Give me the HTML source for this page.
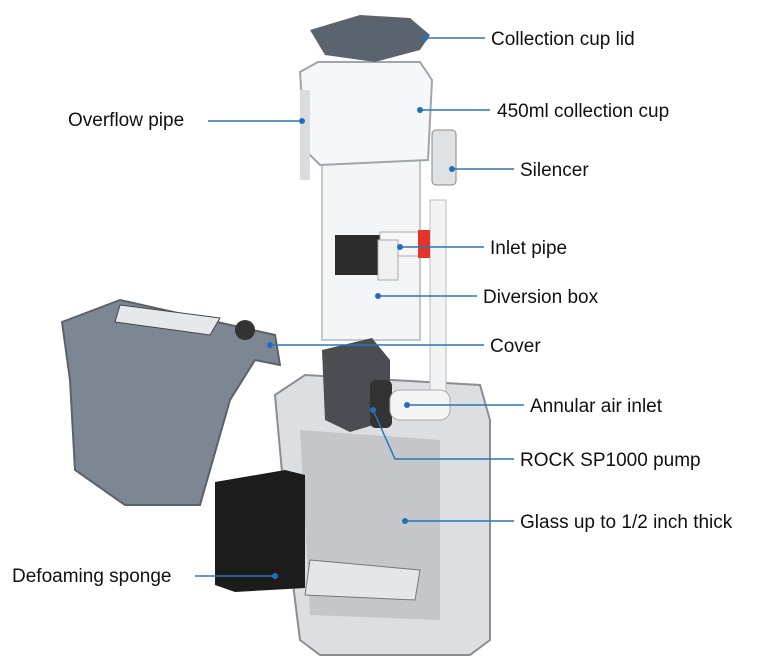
<!DOCTYPE html>
<html><head><style>
html,body{margin:0;padding:0;background:#fff;}
svg{display:block}
text{font-family:"Liberation Sans",sans-serif;font-size:19px;fill:#111;}
</style></head><body>
<svg width="773" height="669" viewBox="0 0 773 669" xmlns="http://www.w3.org/2000/svg">
<!-- sump -->
<path d="M275 395 L305 375 L480 385 L490 420 L490 640 L470 655 L320 655 L300 640 L290 560 Z" fill="#dcdee1" stroke="#8a8e94" stroke-width="2"/>
<path d="M300 430 L440 440 L440 620 L310 615 Z" fill="#b9bcc1" opacity="0.7"/>
<path d="M310 560 L420 570 L415 600 L305 595 Z" fill="#e4e6e8" stroke="#777"/>
<!-- cover -->
<path d="M62 322 L120 300 L275 335 L280 365 L255 360 L230 400 L200 505 L125 505 L75 470 L70 380 Z" fill="#7d8794" stroke="#5a626c" stroke-width="2"/>
<path d="M120 305 L220 318 L210 335 L115 322 Z" fill="#e6e9ec" stroke="#444"/>
<circle cx="245" cy="330" r="10" fill="#333"/>
<!-- sponge -->
<path d="M215 482 L285 470 L305 475 L305 588 L235 592 L215 585 Z" fill="#1c1c1c"/>
<!-- body tube -->
<path d="M322 160 L420 160 L420 340 L322 340 Z" fill="#f4f5f6" stroke="#c4c7cc" stroke-width="2"/>
<path d="M335 235 L395 235 L395 275 L335 275 Z" fill="#2b2b2b"/>
<rect x="430" y="200" width="16" height="200" fill="#f2f3f4" stroke="#bbb"/>
<!-- collection cup -->
<path d="M300 72 L318 62 L420 62 L432 80 L428 160 L320 165 L305 150 Z" fill="#f6f7f8" stroke="#a0a5ab" stroke-width="2"/>
<rect x="300" y="90" width="10" height="90" fill="#dadcdf"/>
<!-- silencer -->
<rect x="432" y="130" width="24" height="55" rx="4" fill="#dfe1e3" stroke="#888"/>
<!-- lid -->
<path d="M310 30 L360 15 L410 18 L430 35 L420 50 L375 62 L325 55 Z" fill="#5b646e"/>
<!-- inlet pipe -->
<rect x="380" y="232" width="50" height="24" fill="#f7f7f7" stroke="#aaa"/>
<rect x="418" y="230" width="12" height="28" fill="#e2342a"/>
<rect x="378" y="240" width="20" height="40" fill="#f0f0f0" stroke="#aaa"/>
<!-- pump -->
<path d="M322 350 L372 338 L390 360 L390 420 L350 432 L325 420 Z" fill="#4a4d52"/>
<rect x="370" y="380" width="22" height="48" rx="6" fill="#333"/>
<rect x="390" y="390" width="60" height="30" rx="10" fill="#f4f4f4" stroke="#aaa"/>
<!-- leader lines -->
<g stroke="#2a74bd" stroke-width="1.5" fill="none">
<line x1="425" y1="38" x2="485" y2="38"/>
<line x1="420" y1="110" x2="490" y2="110"/>
<line x1="452" y1="169" x2="514" y2="169"/>
<line x1="400" y1="247" x2="484" y2="247"/>
<line x1="378" y1="296" x2="477" y2="296"/>
<line x1="270" y1="345" x2="484" y2="345"/>
<line x1="407" y1="405" x2="524" y2="405"/>
<polyline points="373,410 395,459 514,459"/>
<line x1="405" y1="521" x2="514" y2="521"/>
<line x1="208" y1="121" x2="302" y2="121"/>
<line x1="195" y1="576" x2="275" y2="576"/>
</g>
<g fill="#1f6fc0">
<circle cx="425" cy="38" r="3"/><circle cx="420" cy="110" r="3"/><circle cx="452" cy="169" r="3"/>
<circle cx="400" cy="247" r="3"/><circle cx="378" cy="296" r="3"/><circle cx="270" cy="345" r="3"/>
<circle cx="407" cy="405" r="3"/><circle cx="373" cy="410" r="3"/><circle cx="405" cy="521" r="3"/>
<circle cx="302" cy="121" r="3"/><circle cx="275" cy="576" r="3"/>
</g>
<text x="491" y="45">Collection cup lid</text>
<text x="497" y="117">450ml collection cup</text>
<text x="520" y="176">Silencer</text>
<text x="490" y="254">Inlet pipe</text>
<text x="483" y="303">Diversion box</text>
<text x="490" y="352">Cover</text>
<text x="530" y="412">Annular air inlet</text>
<text x="520" y="466">ROCK SP1000 pump</text>
<text x="520" y="528">Glass up to 1/2 inch thick</text>
<text x="68" y="126">Overflow pipe</text>
<text x="12" y="582">Defoaming sponge</text>
</svg>
</body></html>
